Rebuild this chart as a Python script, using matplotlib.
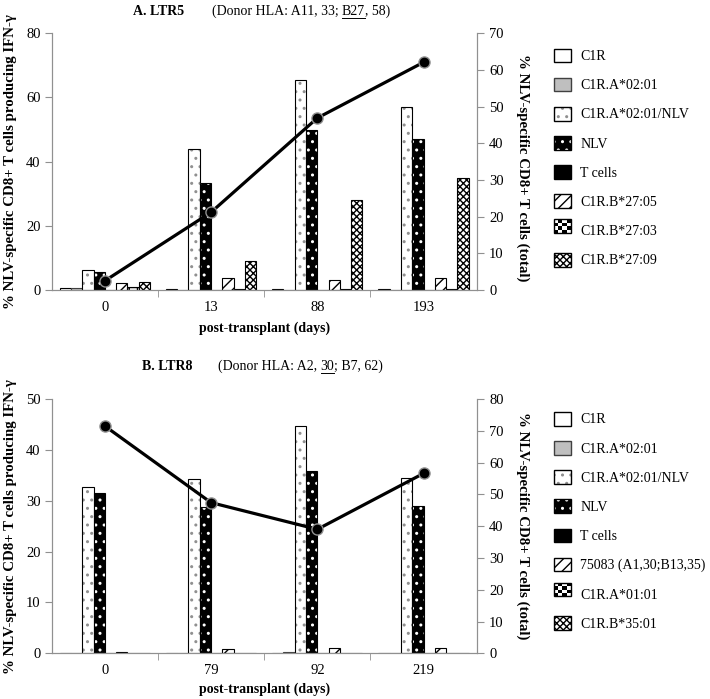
import numpy as np
import matplotlib
matplotlib.use("Agg")
import matplotlib.pyplot as plt
from matplotlib.patches import Rectangle, Patch
from matplotlib.lines import Line2D

plt.rcParams['font.family'] = ['Liberation Serif', 'DejaVu Serif']
plt.rcParams['hatch.linewidth'] = 1.0

# ---- data ----
days_a = ['0', '13', '88', '193']
labels_a = ['C1R', 'C1R.A*02:01', 'C1R.A*02:01/NLV', 'NLV', 'T cells',
            'C1R.B*27:05', 'C1R.B*27:03', 'C1R.B*27:09']
c1r_a = [0.7, 0.3, 0.3, 0.3]
a0201_a = [0.7, 0.1, 0.1, 0.1]
a0201nlv_a = [6.2, 43.8, 65.6, 57.1]
nlv_a = [5.7, 33.2, 49.8, 47.2]
tcells_a = [0, 0, 0, 0]
b2705_a = [2.1, 3.8, 3.1, 3.6]
b2703_a = [0.8, 0.3, 0.3, 0.3]
b2709_a = [2.4, 9.0, 28.0, 34.8]
total_a = [2.5, 21.2, 46.9, 62.1]

days_b = ['0', '79', '92', '219']
labels_b = ['C1R', 'C1R.A*02:01', 'C1R.A*02:01/NLV', 'NLV', 'T cells',
            '75083 (A1,30;B13,35)', 'C1R.A*01:01', 'C1R.B*35:01']
c1r_b = [0.1, 0.1, 0.15, 0.1]
a0201_b = [0.1, 0.15, 0.2, 0.1]
a0201nlv_b = [32.6, 34.2, 44.6, 34.4]
nlv_b = [31.6, 28.8, 35.9, 29.0]
tcells_b = [0, 0, 0, 0]
hla_b = [0.35, 0.85, 1.0, 1.0]
a0101_b = [0, 0.1, 0.15, 0]
b3501_b = [0, 0, 0.1, 0.1]
total_b = [71.5, 47.4, 39.0, 56.6]

# bar styles: (face, edge, hatch, hatch colour)
styles = [
    ('white', 'black', None, None),
    ('#bfbfbf', '#404040', None, None),
    ('white', 'black', '..', '#909090'),
    ('black', 'black', '..', 'white'),
    ('black', 'black', None, None),
    ('white', 'black', '///', 'black'),
    ('white', 'black', '++', 'black'),
    ('white', 'black', 'xxxxx', 'black'),
]


class CheckerHandler:
    def __init__(self, n):
        self.n = n

    def legend_artist(self, legend, orig_handle, fontsize, handlebox):
        x0, y0 = handlebox.xdescent, handlebox.ydescent
        w, h = handlebox.width, handlebox.height
        n = self.n
        for i in range(n):
            for j in range(n):
                c = 'black' if (i + j) % 2 == 0 else 'white'
                handlebox.add_artist(Rectangle([x0 + i * w / n, y0 + j * h / n], w / n, h / n,
                                               facecolor=c, edgecolor='none',
                                               transform=handlebox.get_transform()))
        frame = Rectangle([x0, y0], w, h, facecolor='none', edgecolor='black', lw=1,
                          transform=handlebox.get_transform())
        handlebox.add_artist(frame)
        return frame


def make_handle(st):
    face, edge, hatch, hcol = st
    if hatch is None:
        return Patch(facecolor=face, edgecolor=edge, lw=1)
    back = Patch(facecolor=face, edgecolor=hcol, hatch=hatch, lw=0)
    front = Patch(facecolor='none', edgecolor=edge, lw=1)
    return (back, front)


def panel(ax, days, series, total, ylim_l, ylim_r, xlab_y, rlab_y):
    x = np.arange(len(days))
    n = len(series)
    w = 0.85 / n
    for k, (vals, st) in enumerate(zip(series, styles)):
        face, edge, hatch, hcol = st
        pos = x + (k - (n - 1) / 2) * w
        if hatch is None:
            ax.bar(pos, vals, w, color=face, edgecolor=edge, lw=0.8, zorder=2)
        else:
            ax.bar(pos, vals, w, color=face, edgecolor=hcol, hatch=hatch, lw=0, zorder=2)
            ax.bar(pos, vals, w, fill=False, edgecolor=edge, lw=0.8, zorder=2)
    ax.set_xlim(-0.5, len(days) - 0.5)
    ax.set_ylim(*ylim_l)
    ax.set_xticks(x)
    ax.set_xticklabels(days)
    ax.set_xticks(np.arange(0.5, len(days) - 0.5), minor=True)
    ax.tick_params(axis='x', which='major', length=0, pad=8, labelsize=10.5)
    ax.tick_params(axis='x', which='minor', length=5, color='#909090', direction='out')
    ax.tick_params(axis='y', length=5, color='#909090', pad=3, labelsize=10.5)
    ax.spines['top'].set_visible(False)
    for s in ['left', 'bottom', 'right']:
        ax.spines[s].set_color('#909090')
    ax.set_ylabel('% NLV-specific CD8+ T cells producing IFN-γ', fontweight='bold', fontsize=10.7)
    ax.yaxis.set_label_coords(-0.082, 0.5)
    ax.set_xlabel('post-transplant (days)', fontweight='bold', fontsize=10)
    ax.xaxis.set_label_coords(0.5, xlab_y)

    ax2 = ax.twinx()
    ax2.plot(x, total, color='black', lw=2.3, marker='o', ms=8,
             markerfacecolor='black', markeredgecolor='#909090', markeredgewidth=1, zorder=5)
    ax2.set_ylim(*ylim_r)
    ax2.set_yticks(np.arange(ylim_r[0], ylim_r[1] + 1, 10))
    ax2.tick_params(axis='y', length=5, color='#909090', pad=4, labelsize=10.5)
    ax2.spines['top'].set_visible(False)
    for s in ['left', 'bottom', 'right']:
        ax2.spines[s].set_color('#909090')
    ax2.set_ylabel('% NLV-specific CD8+ T cells (total)', fontweight='bold', fontsize=10.7,
                   rotation=270, va='center')
    ax2.yaxis.set_label_coords(1.109, rlab_y)
    ax.set_zorder(ax2.get_zorder() - 1)
    ax.patch.set_visible(False)

    handles = [make_handle(st) for st in styles]
    handles[6] = Patch(facecolor='white', edgecolor='black')
    return handles


def title(fig, x, y, parts):
    r = fig.canvas.get_renderer()
    inv = fig.transFigure.inverted()
    for txt, bold, ul in parts:
        t = fig.text(x, y, txt, fontsize=10, fontweight='bold' if bold else 'normal',
                     va='baseline', ha='left')
        bb = t.get_window_extent(r).transformed(inv)
        if ul:
            fig.add_artist(Line2D([bb.x0, bb.x1], [y - 2.5 / 699, y - 2.5 / 699],
                                  transform=fig.transFigure, color='black', lw=0.7))
        x = bb.x1


fig = plt.figure(figsize=(7.10, 6.99), dpi=100)
ax_a = fig.add_axes([51.7 / 710, 1 - 290 / 699, 425 / 710, 256.7 / 699])
ax_b = fig.add_axes([51.7 / 710, 1 - 653.3 / 699, 425 / 710, 254.3 / 699])

ser_a = [c1r_a, a0201_a, a0201nlv_a, nlv_a, tcells_a, b2705_a, b2703_a, b2709_a]
ser_b = [c1r_b, a0201_b, a0201nlv_b, nlv_b, tcells_b, hla_b, a0101_b, b3501_b]
h_a = panel(ax_a, days_a, ser_a, total_a, (0, 80), (0, 70), -0.121, 0.477)
ax_a.set_yticks(np.arange(0, 81, 20))
h_b = panel(ax_b, days_b, ser_b, total_b, (0, 50), (0, 80), -0.113, 0.5)
ax_b.set_yticks(np.arange(0, 51, 10))

for handles, labels, top in [(h_a, labels_a, 48.5), (h_b, labels_b, 411.8)]:
    fig.legend(handles, labels, loc='upper left', bbox_to_anchor=(554 / 710, 1 - top / 699),
               frameon=False, fontsize=10, borderpad=0, borderaxespad=0,
               handlelength=1.2, handleheight=1.15, handletextpad=0.7, labelspacing=1.05,
               handler_map={handles[6]: CheckerHandler(4)})

title(fig, 133 / 710, 1 - 15 / 699, [('A. LTR5', True, False)])
title(fig, 211.7 / 710, 1 - 15 / 699, [('(Donor HLA: A11, 33; ', False, False), ('B27', False, True),
                                        (', 58)', False, False)])
title(fig, 141.7 / 710, 1 - 370 / 699, [('B. LTR8', True, False)])
title(fig, 218 / 710, 1 - 370 / 699, [('(Donor HLA: A2, ', False, False), ('30', False, True),
                                       ('; B7, 62)', False, False)])

fig.savefig('out.png', dpi=100)
